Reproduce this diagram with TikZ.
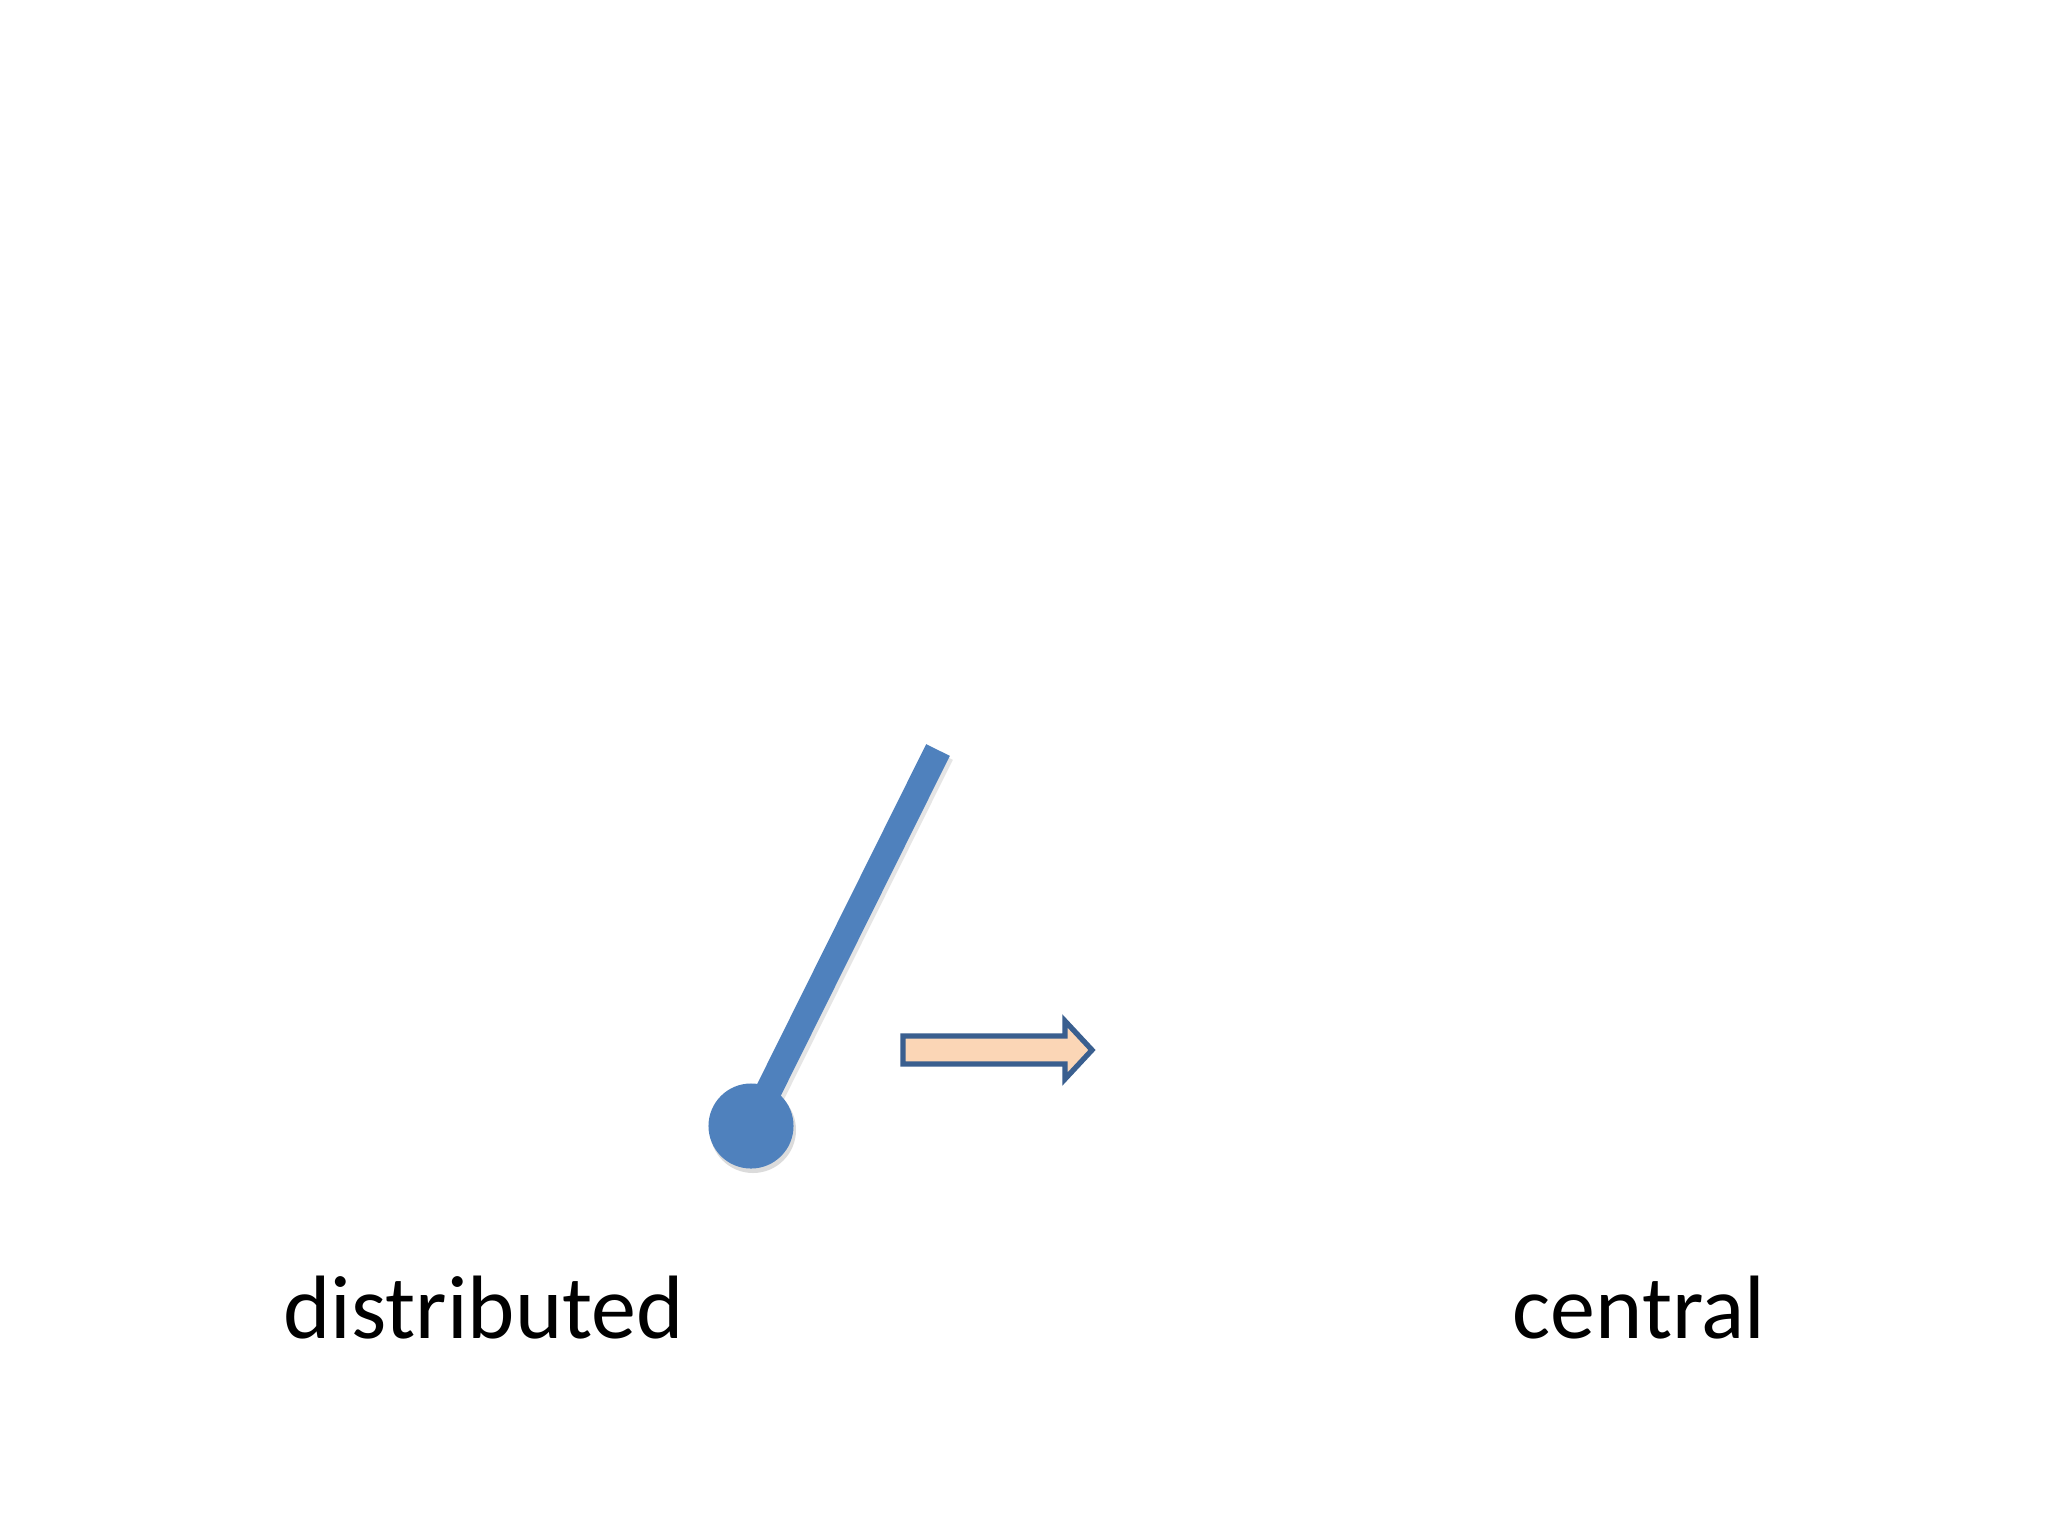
\documentclass[tikz,border=0pt]{standalone}
\usepackage{fontspec}
\setmainfont{Carlito}
\definecolor{linkblue}{HTML}{4F81BD}
\definecolor{arrowline}{HTML}{3A5F8F}
\definecolor{arrowfill}{HTML}{FBD6B6}
\begin{document}
\begin{tikzpicture}[x=0.01cm,y=-0.01cm,
  label/.style={font=\fontsize{25.6}{31}\selectfont, inner sep=0pt, text=black},
]
\useasboundingbox (0,0) rectangle (2048,1536);
\fill[white] (0,0) rectangle (2048,1536);
% top end of the rod and the pivot
\coordinate (top) at (938,750);
\coordinate (piv) at (751,1126);
% shadows
\draw[black!10, line width=7.5pt] ([xshift=0.03cm,yshift=-0.04cm]top) -- ([xshift=0.03cm,yshift=-0.04cm]piv);
\fill[black!14] (753,1130) circle [radius=43];
% rod
\draw[linkblue, line width=7.5pt] (top) -- (piv);
\node[circle, fill=linkblue, minimum size=0.85cm, inner sep=0pt] (ball) at (piv) {};
% block arrow
\draw[arrowline, fill=arrowfill, line width=1.5pt, line join=miter]
  (903,1036) -- (1065,1036) -- (1065,1021) -- (1092,1050) -- (1065,1079) -- (1065,1064) -- (903,1064) -- cycle;
\node[label, anchor=base west] (dist) at (283,1338) {distributed};
\node[label, anchor=base west] (cent) at (1512,1338) {central};
\end{tikzpicture}
\end{document}
